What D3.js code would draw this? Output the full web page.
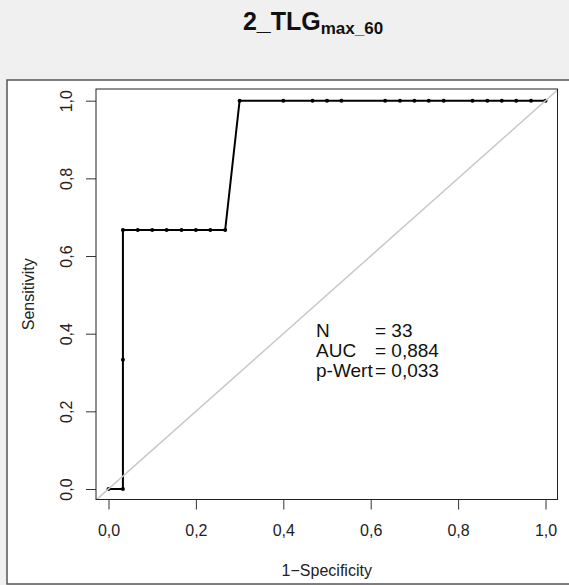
<!DOCTYPE html>
<html lang="de">
<head>
<meta charset="UTF-8">
<title>2_TLG max_60 ROC</title>
<script src="https://d3js.org/d3.v7.min.js"></script>
<style>
  body { margin: 0; background: #f0f0f0; }
  svg { display: block; font-family: "Liberation Sans", Arial, sans-serif; }
</style>
</head>
<body>
<div id="chart"></div>
<script>
// ROC points (1-specificity, sensitivity)
var fpr  = [0, 0.033, 0.033, 0.033, 0.067, 0.1, 0.133, 0.167, 0.2, 0.233, 0.267,
            0.3, 0.4, 0.467, 0.5, 0.533, 0.633, 0.667, 0.7, 0.733, 0.767,
            0.833, 0.867, 0.9, 0.933, 0.967, 1.0];
var sens = [0, 0, 0.333, 0.667, 0.667, 0.667, 0.667, 0.667, 0.667, 0.667, 0.667,
            1, 1, 1, 1, 1, 1, 1, 1, 1, 1,
            1, 1, 1, 1, 1, 1];
var xTicks = [0, 0.2, 0.4, 0.6, 0.8, 1.0];
var yTicks = [0, 0.2, 0.4, 0.6, 0.8, 1.0];
var statLabels = ["N", "AUC", "p-Wert"];
var statValues = ["= 33", "= 0,884", "= 0,033"];

var w = 569, h = 585;
var box = { left: 96, right: 557.5, top: 89, bottom: 499.5 };

var svg = d3.select("#chart").append("svg")
    .attr("width", w)
    .attr("height", h);

// white panel
svg.append("rect")
    .attr("x", 7).attr("y", 80)
    .attr("width", 620).attr("height", 504)
    .attr("fill", "#fff")
    .attr("stroke", "#555")
    .attr("stroke-width", 1.5);

// title with subscript
var title = svg.append("text")
    .attr("x", 313).attr("y", 30)
    .attr("text-anchor", "middle")
    .attr("font-weight", "bold")
    .attr("fill", "#111");
title.append("tspan").attr("font-size", 25).text("2_TLG");
title.append("tspan").attr("font-size", 17).attr("dy", 3.5).text("max_60");

var x = d3.scaleLinear().domain([0, 1]).range([108.5, 545.5]);
var y = d3.scaleLinear().domain([0, 1]).range([489, 100.7]);

var fmt = function(d) { return d3.format(".1f")(d).replace(".", ","); };

// x axis
var gx = svg.append("g")
    .attr("transform", "translate(0," + box.bottom + ")")
    .call(d3.axisBottom(x).tickValues(xTicks).tickFormat(fmt).tickSize(10).tickPadding(0));
gx.select(".domain").remove();
gx.selectAll("line").attr("stroke", "#333");
gx.selectAll("text")
    .attr("font-size", 16)
    .attr("fill", "#222")
    .attr("dy", null)
    .attr("y", 36.5);

// y axis
var gy = svg.append("g")
    .attr("transform", "translate(" + box.left + ",0)")
    .call(d3.axisLeft(y).tickValues(yTicks).tickFormat(fmt).tickSize(10));
gy.select(".domain").remove();
gy.selectAll("line").attr("stroke", "#333");
gy.selectAll("text")
    .attr("font-size", 16)
    .attr("fill", "#222")
    .attr("x", null).attr("dy", null)
    .attr("text-anchor", "middle")
    .attr("transform", "translate(-24,0) rotate(-90)");

// axis titles
svg.append("text")
    .attr("x", (box.left + box.right) / 2).attr("y", 576)
    .attr("text-anchor", "middle")
    .attr("font-size", 16)
    .attr("fill", "#222")
    .text("1\u2212Specificity");
svg.append("text")
    .attr("transform", "translate(33.5," + (box.top + box.bottom) / 2 + ") rotate(-90)")
    .attr("text-anchor", "middle")
    .attr("font-size", 16)
    .attr("fill", "#222")
    .text("Sensitivity");

// clip for the diagonal
svg.append("clipPath").attr("id", "plotclip")
  .append("rect")
    .attr("x", box.left).attr("y", box.top)
    .attr("width", box.right - box.left).attr("height", box.bottom - box.top);

var pts = fpr.map(function(d, i) { return [d, sens[i]]; });

// ROC curve
svg.append("path")
    .datum(pts)
    .attr("fill", "none")
    .attr("stroke", "#000")
    .attr("stroke-width", 2)
    .attr("d", d3.line().x(function(d) { return x(d[0]); }).y(function(d) { return y(d[1]); }));

svg.selectAll("circle.pt")
    .data(pts)
  .enter().append("circle")
    .attr("class", "pt")
    .attr("cx", function(d) { return x(d[0]); })
    .attr("cy", function(d) { return y(d[1]); })
    .attr("r", 2)
    .attr("fill", "#000");

// reference diagonal
svg.append("line")
    .attr("clip-path", "url(#plotclip)")
    .attr("x1", x(-0.1)).attr("y1", y(-0.1))
    .attr("x2", x(1.1)).attr("y2", y(1.1))
    .attr("stroke", "#c8c8c8")
    .attr("stroke-width", 1.5);

// plot box
svg.append("rect")
    .attr("x", box.left).attr("y", box.top)
    .attr("width", box.right - box.left).attr("height", box.bottom - box.top)
    .attr("fill", "none")
    .attr("stroke", "#222")
    .attr("stroke-width", 1);

// stats text
var stats = svg.append("g").attr("font-size", 19).attr("fill", "#111");
stats.selectAll("text.lab")
    .data(statLabels)
  .enter().append("text")
    .attr("class", "lab")
    .attr("x", 316)
    .attr("y", function(d, i) { return 336.7 + i * 20; })
    .text(function(d) { return d; });
stats.selectAll("text.val")
    .data(statValues)
  .enter().append("text")
    .attr("class", "val")
    .attr("x", 375)
    .attr("y", function(d, i) { return 336.7 + i * 20; })
    .text(function(d) { return d; });
</script>
</body>
</html>
